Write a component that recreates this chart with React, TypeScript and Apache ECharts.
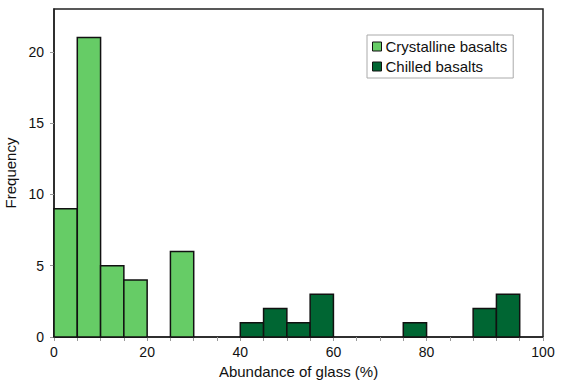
import React, { useEffect, useRef } from "react";
import * as echarts from "echarts";

// Histogram data (bin start in %, count), bin width 5
const binWidth = 5;
const crystallineStarts = [0, 5, 10, 15, 25];
const crystallineCounts = [9, 21, 5, 4, 6];
const chilledStarts = [40, 45, 50, 55, 75, 90, 95];
const chilledCounts = [1, 2, 1, 3, 1, 2, 3];

// Tick labels as printed on the reference (last label sits at the axis end)
const xTickValues = [0, 20, 40, 60, 80, 105];
const xTickLabels = ["0", "20", "40", "60", "80", "100"];
const yTickValues = [0, 5, 10, 15, 20];

const seriesNames = ["Crystalline basalts", "Chilled basalts"];
const colors = ["#66CC66", "#006633"];

const FONT = "'Liberation Sans', Arial, Helvetica, sans-serif";

function toData(starts: number[], counts: number[]) {
  return starts.map((s, i) => [s, s + binWidth, counts[i]]);
}

function renderItem(params: any, api: any) {
  const topLeft = api.coord([api.value(0), api.value(2)]);
  const bottomRight = api.coord([api.value(1), 0]);
  return {
    type: "rect",
    shape: {
      x: topLeft[0],
      y: topLeft[1],
      width: bottomRight[0] - topLeft[0],
      height: bottomRight[1] - topLeft[1],
    },
    style: {
      fill: api.visual("color"),
      stroke: "#111",
      lineWidth: 1.5,
    },
  };
}

export default function App() {
  const ref = useRef<HTMLDivElement>(null);

  useEffect(() => {
    document.body.style.margin = "0";
    if (!ref.current) return;
    const chart = echarts.init(ref.current, undefined, { renderer: "svg" });
    chart.setOption({
      animation: false,
      backgroundColor: "#fff",
      textStyle: { fontFamily: FONT },
      grid: {
        left: 54,
        right: 20,
        top: 9,
        bottom: 52,
        outerBoundsMode: "none",
        containLabel: false,
        show: true,
        borderColor: "#222",
        borderWidth: 1.5,
        backgroundColor: "transparent",
      },
      legend: {
        orient: "vertical",
        left: 367,
        top: 35,
        data: seriesNames,
        icon: "rect",
        itemWidth: 9,
        itemHeight: 9,
        itemGap: 5,
        padding: [4, 6, 4, 5],
        borderColor: "#aaa",
        borderWidth: 1,
        backgroundColor: "#fff",
        itemStyle: { borderColor: "#111", borderWidth: 1 },
        textStyle: { fontSize: 15, color: "#111", fontFamily: FONT, padding: [0, 0, 0, -1] },
      },
      xAxis: {
        type: "value",
        min: 0,
        max: 105,
        interval: 5,
        name: "Abundance of glass (%)",
        nameLocation: "middle",
        nameGap: 27,
        nameTextStyle: { fontSize: 15, color: "#111", fontFamily: FONT },
        splitLine: { show: false },
        axisLine: { show: true, lineStyle: { color: "#222", width: 1.5 } },
        axisTick: { show: true, length: 4, lineStyle: { color: "#999", width: 1 } },
        axisLabel: {
          fontSize: 14,
          color: "#111",
          margin: 8,
          showMaxLabel: true,
          showMinLabel: true,
          formatter: (v: number) => {
            const i = xTickValues.indexOf(v);
            return i >= 0 ? xTickLabels[i] : "";
          },
        },
      },
      yAxis: {
        type: "value",
        min: 0,
        max: 23,
        interval: 5,
        name: "Frequency",
        nameLocation: "middle",
        nameGap: 35,
        nameTextStyle: { fontSize: 15, color: "#111", fontFamily: FONT },
        splitLine: { show: false },
        axisLine: { show: true, lineStyle: { color: "#222", width: 1.5 } },
        axisTick: { show: true, length: 4, lineStyle: { color: "#999", width: 1 } },
        axisLabel: {
          fontSize: 14,
          color: "#111",
          margin: 10,
          showMaxLabel: false,
          formatter: (v: number) => (yTickValues.indexOf(v) >= 0 ? String(v) : ""),
        },
      },
      series: [
        {
          name: seriesNames[0],
          type: "custom",
          renderItem,
          itemStyle: { color: colors[0] },
          encode: { x: [0, 1], y: 2 },
          data: toData(crystallineStarts, crystallineCounts),
        },
        {
          name: seriesNames[1],
          type: "custom",
          renderItem,
          itemStyle: { color: colors[1] },
          encode: { x: [0, 1], y: 2 },
          data: toData(chilledStarts, chilledCounts),
        },
      ],
    });
    return () => chart.dispose();
  }, []);

  return <div ref={ref} style={{ width: 563, height: 389 }} />;
}
